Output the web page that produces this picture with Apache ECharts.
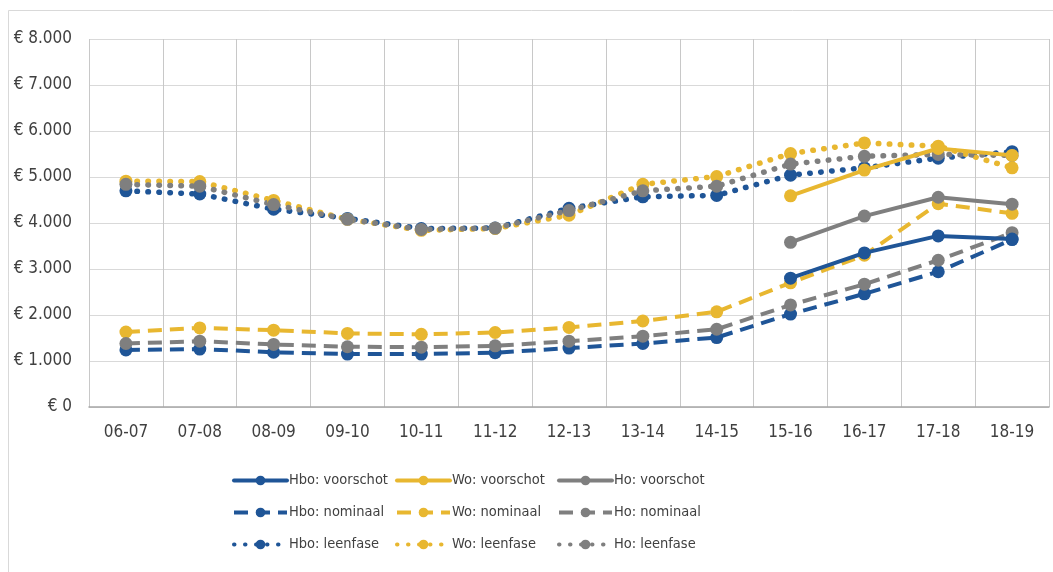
<!DOCTYPE html>
<html>
<head>
<meta charset="utf-8">
<script src="https://cdn.jsdelivr.net/npm/echarts@6/dist/echarts.min.js"></script>
<style>
html,body{margin:0;padding:0;background:#fff;}
#main{width:1053px;height:572px;}
</style>
</head>
<body>
<div id="main"></div>
<script>
// categorieen (studiejaren)
var years = ['06-07','07-08','08-09','09-10','10-11','11-12','12-13','13-14','14-15','15-16','16-17','17-18','18-19'];

// voorschot (alleen vanaf 15-16)
var hboVoorschot = [null,null,null,null,null,null,null,null,null,2800,3350,3720,3650];
var woVoorschot  = [null,null,null,null,null,null,null,null,null,4590,5150,5620,5470];
var hoVoorschot  = [null,null,null,null,null,null,null,null,null,3580,4150,4560,4410];

// nominaal
var hboNominaal = [1240,1260,1190,1150,1150,1180,1280,1380,1510,2020,2460,2940,3640];
var woNominaal  = [1630,1720,1670,1600,1580,1620,1730,1870,2070,2700,3300,4420,4210];
var hoNominaal  = [1380,1430,1360,1310,1300,1330,1430,1540,1690,2220,2670,3190,3790];

// leenfase
var hboLeenfase = [4700,4630,4300,4100,3880,3890,4320,4570,4600,5040,5200,5410,5550];
var woLeenfase  = [4910,4900,4490,4080,3840,3880,4170,4840,5010,5510,5740,5670,5200];
var hoLeenfase  = [4840,4800,4400,4080,3860,3890,4270,4700,4800,5280,5450,5490,5470];

var blauw = '#1f5597';
var geel = '#e8b730';
var grijs = '#7f7f7f';
var tekstKleur = '#404040';
var font = 'DejaVu Sans Condensed, DejaVu Sans';

var dom = document.getElementById('main');
var myChart = echarts.init(dom);

// maak een lijn-serie
var maakSerie = function(naam, data, kleur, soort){
	var lijn = {color: kleur, width: 4, cap: 'round'};
	if(soort === 'dash'){
		lijn.type = [14, 8];
		lijn.cap = 'butt';
	}else if(soort === 'dot'){
		lijn.type = [0.5, 10.5];
		lijn.width = 5.5;
	}
	return {
		name: naam,
		type: 'line',
		data: data,
		symbol: 'circle',
		symbolSize: 13,
		connectNulls: false,
		itemStyle: {color: kleur},
		lineStyle: lijn,
		z: soort === 'solid' ? 4 : 3
	};
};

var series = [
	maakSerie('Hbo: leenfase', hboLeenfase, blauw, 'dot'),
	maakSerie('Wo: leenfase', woLeenfase, geel, 'dot'),
	maakSerie('Ho: leenfase', hoLeenfase, grijs, 'dot'),
	maakSerie('Hbo: nominaal', hboNominaal, blauw, 'dash'),
	maakSerie('Wo: nominaal', woNominaal, geel, 'dash'),
	maakSerie('Ho: nominaal', hoNominaal, grijs, 'dash'),
	maakSerie('Hbo: voorschot', hboVoorschot, blauw, 'solid'),
	maakSerie('Wo: voorschot', woVoorschot, geel, 'solid'),
	maakSerie('Ho: voorschot', hoVoorschot, grijs, 'solid')
];

var legendaKolom = function(links, namen){
	return {
		orient: 'vertical',
		left: links,
		top: 468,
		itemWidth: 53,
		itemHeight: 12,
		itemGap: 17,
		selectedMode: false,
		lineStyle: {width: 4},
		textStyle: {fontFamily: font, fontSize: 14.5, color: tekstKleur, padding: [0,0,0,-3]},
		data: namen
	};
};

var option = {
	backgroundColor: '#fff',
	animation: false,
	graphic: [{
		type: 'rect',
		shape: {x: 8.5, y: 10.5, width: 1050, height: 570},
		style: {fill: 'none', stroke: '#d9d9d9', lineWidth: 1},
		silent: true
	}],
	grid: {left: 89, right: 4, top: 39, bottom: 165},
	legend: [
		legendaKolom(227, ['Hbo: voorschot','Hbo: nominaal','Hbo: leenfase']),
		legendaKolom(390, ['Wo: voorschot','Wo: nominaal','Wo: leenfase']),
		legendaKolom(552, ['Ho: voorschot','Ho: nominaal','Ho: leenfase'])
	],
	xAxis: {
		type: 'category',
		data: years,
		boundaryGap: true,
		axisLine: {lineStyle: {color: '#a6a6a6', width: 1.5}},
		axisTick: {show: false},
		splitLine: {show: true, lineStyle: {color: '#c8c8c8', width: 1}},
		axisLabel: {margin: 17, color: tekstKleur, fontSize: 17, fontFamily: font}
	},
	yAxis: {
		type: 'value',
		min: 0,
		max: 8000,
		interval: 1000,
		axisLine: {show: false},
		axisTick: {show: false},
		splitLine: {lineStyle: {color: '#d9d9d9', width: 1}},
		axisLabel: {
			margin: 17,
			color: tekstKleur,
			fontSize: 17,
			fontFamily: font,
			formatter: function(v){
				var s = String(v);
				if(v >= 1000){ s = Math.floor(v/1000) + '.' + String(v%1000).padStart(3,'0'); }
				return '€ ' + s;
			}
		}
	},
	series: series
};

myChart.setOption(option, true);
</script>
</body>
</html>
